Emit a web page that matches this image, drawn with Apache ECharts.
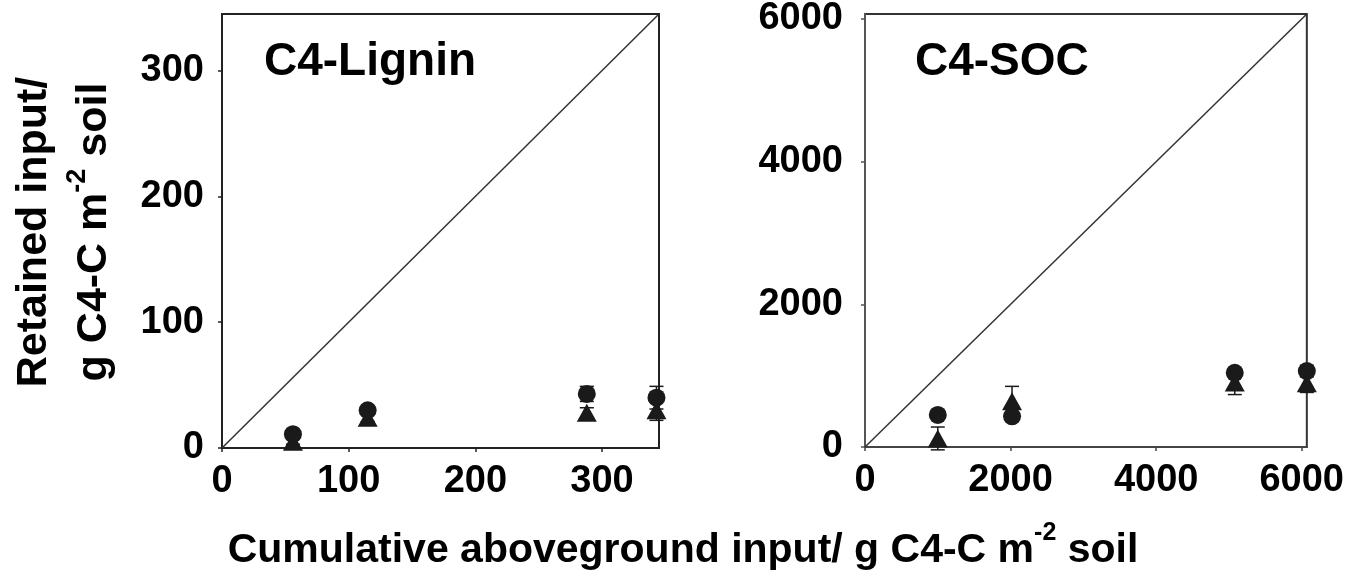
<!DOCTYPE html>
<html>
<head>
<meta charset="utf-8">
<title>Retained C4 input</title>
<script src="https://cdn.jsdelivr.net/npm/echarts@6/dist/echarts.min.js"></script>
<style>
	html,body{margin:0;padding:0;background:#fff;}
	#echarts_box{width:1347px;height:577px;}
</style>
</head>
<body>
<div id="echarts_box"></div>
<script>
	// C4-Lignin panel
	var ligninX = [56, 115, 288, 343];
	var ligninCircle = [11, 30, 43, 40];
	var ligninCircleErr = [2, 3, 6, 9];
	var ligninTriangle = [5, 24, 28, 30];
	var ligninTriangleErr = [2, 3, 4, 8];
	var ligninOneToOne = [[0, 0], [345, 345]];
	var ligninRange = [0, 345, 100];

	// C4-SOC panel
	var socX = [1000, 2020, 5080, 6070];
	var socCircle = [450, 430, 1040, 1065];
	var socCircleErr = [40, 40, 60, 80];
	var socTriangle = [120, 640, 905, 895];
	var socTriangleErr = [160, 210, 170, 130];
	var socOneToOne = [[0, 0], [6070, 6070]];
	var socRange = [0, 6070, 2000];

	var FONT = "'Liberation Sans', Arial, Helvetica, sans-serif";
	var INK = '#1a1a1a';

	function pairs(xs, ys){
		var out = [];
		for(var i = 0; i < xs.length; i++){
			out.push([xs[i], ys[i]]);
		}
		return out;
	}
	function bars(xs, ys, errs){
		var out = [];
		for(var i = 0; i < xs.length; i++){
			out.push([xs[i], ys[i] - errs[i], ys[i] + errs[i]]);
		}
		return out;
	}

	function errorBar(params, api){
		var x = api.value(0);
		var lo = api.coord([x, api.value(1)]);
		var hi = api.coord([x, api.value(2)]);
		var w = 7;
		var st = {stroke: INK, lineWidth: 1.5};
		return {
			type: 'group',
			children: [
				{type: 'line', shape: {x1: lo[0], y1: lo[1], x2: hi[0], y2: hi[1]}, style: st},
				{type: 'line', shape: {x1: lo[0] - w, y1: lo[1], x2: lo[0] + w, y2: lo[1]}, style: st},
				{type: 'line', shape: {x1: hi[0] - w, y1: hi[1], x2: hi[0] + w, y2: hi[1]}, style: st}
			]
		};
	}

	function axis(gridIndex, range, lineColor, margin){
		return {
			type: 'value',
			gridIndex: gridIndex,
			min: range[0],
			max: range[1],
			interval: range[2],
			axisLine: {show: true, onZero: false, lineStyle: {color: lineColor, width: 2}},
			axisTick: {show: true, length: 4, lineStyle: {color: lineColor, width: 1.5}},
			axisLabel: {
				color: '#000',
				fontSize: 38,
				fontWeight: 'bold',
				fontFamily: FONT,
				margin: margin,
				showMaxLabel: false,
				formatter: function(v){ return String(v); }
			},
			splitLine: {show: false}
		};
	}

	function panelSeries(idx, xs, circ, circErr, tri, triErr, diag){
		return [
			{
				type: 'line',
				xAxisIndex: idx, yAxisIndex: idx,
				data: diag,
				symbol: 'none',
				silent: true,
				lineStyle: {color: '#333', width: 1.5}
			},
			{
				type: 'custom',
				xAxisIndex: idx, yAxisIndex: idx,
				renderItem: errorBar,
				data: bars(xs, tri, triErr),
				z: 3
			},
			{
				type: 'custom',
				xAxisIndex: idx, yAxisIndex: idx,
				renderItem: errorBar,
				data: bars(xs, circ, circErr),
				z: 3
			},
			{
				type: 'scatter',
				xAxisIndex: idx, yAxisIndex: idx,
				symbol: 'triangle',
				symbolSize: [20, 18],
				itemStyle: {color: INK, opacity: 1},
				data: pairs(xs, tri),
				z: 4
			},
			{
				type: 'scatter',
				xAxisIndex: idx, yAxisIndex: idx,
				symbol: 'circle',
				symbolSize: 18,
				itemStyle: {color: INK, opacity: 1},
				data: pairs(xs, circ),
				z: 5
			}
		];
	}

	function titleRich(size){
		return {
			a: {fontSize: size, fontWeight: 'bold', fontFamily: FONT, color: '#000', lineHeight: 60},
			s: {fontSize: Math.round(size * 0.62), fontWeight: 'bold', fontFamily: FONT, color: '#000', lineHeight: 42, verticalAlign: 'top'}
		};
	}

	var myChart = echarts.init(document.getElementById('echarts_box'));
	var option = {
		animation: false,
		backgroundColor: '#fff',
		grid: [
			{left: 222, top: 14, width: 437, height: 434, show: true, borderColor: '#222', borderWidth: 2, backgroundColor: 'transparent'},
			{left: 865, top: 14, width: 444, height: 433, show: true, borderColor: '#333', borderWidth: 2, backgroundColor: 'transparent'}
		],
		xAxis: [
			axis(0, ligninRange, '#222', 15),
			axis(1, socRange, '#444', 15)
		],
		yAxis: [
			axis(0, ligninRange, '#222', 18),
			axis(1, socRange, '#555', 22)
		],
		series: panelSeries(0, ligninX, ligninCircle, ligninCircleErr, ligninTriangle, ligninTriangleErr, ligninOneToOne)
			.concat(panelSeries(1, socX, socCircle, socCircleErr, socTriangle, socTriangleErr, socOneToOne)),
		graphic: [
			{
				type: 'text', x: 264, y: 62,
				style: {text: 'C4-Lignin', align: 'left', verticalAlign: 'middle', fontSize: 46, fontWeight: 'bold', fontFamily: FONT, fill: '#000'}
			},
			{
				type: 'text', x: 915, y: 62,
				style: {text: 'C4-SOC', align: 'left', verticalAlign: 'middle', fontSize: 46, fontWeight: 'bold', fontFamily: FONT, fill: '#000'}
			},
			{
				type: 'text', x: 64, y: 232, rotation: Math.PI / 2,
				style: {
					text: '{a|Retained input/}\n{a|g C4-C m}{s|-2}{a| soil}',
					rich: titleRich(43),
					align: 'center', verticalAlign: 'middle'
				}
			},
			{
				type: 'text', x: 683, y: 551,
				style: {
					text: '{a|Cumulative aboveground input/ g C4-C m}{s|-2}{a| soil}',
					rich: titleRich(41),
					align: 'center', verticalAlign: 'middle'
				}
			}
		]
	};
	myChart.setOption(option);
</script>
</body>
</html>
